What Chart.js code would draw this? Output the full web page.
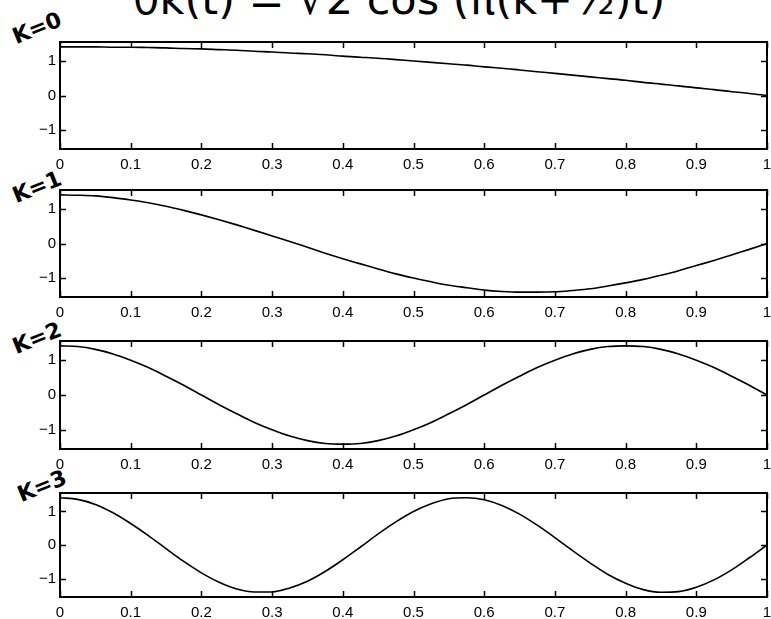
<!DOCTYPE html>
<html>
<head>
<meta charset="utf-8">
<script src="https://cdn.jsdelivr.net/npm/chart.js@4"></script>
<style>
  html, body { margin: 0; padding: 0; background: #fff; overflow: hidden; }
  body { width: 771px; height: 619px; position: relative; }
  canvas { position: absolute; left: 0; }
  .hand { position: absolute; font-family: "DejaVu Sans", sans-serif; color: #000; white-space: nowrap; }
  #title { left: 133px; top: -22px; font-size: 43px; line-height: 43px; }
  .klabel { font-size: 22px; font-weight: bold; transform: rotate(-22deg); transform-origin: left bottom; }
</style>
</head>
<body>
<div id="title" class="hand">ϑk(t) = √2 cos (π(k+½)t)</div>
<div class="hand klabel" style="left:18px; top:24px;">K=0</div>
<div class="hand klabel" style="left:18px; top:183px;">K=1</div>
<div class="hand klabel" style="left:18px; top:334px;">K=2</div>
<div class="hand klabel" style="left:23px; top:482px;">K=3</div>

<canvas id="c0"></canvas>
<canvas id="c1"></canvas>
<canvas id="c2"></canvas>
<canvas id="c3"></canvas>

<script>
// sample times (t) read along the horizontal axis
const tValues = [0, 0.025, 0.05, 0.075, 0.1, 0.125, 0.15, 0.175, 0.2, 0.225,
  0.25, 0.275, 0.3, 0.325, 0.35, 0.375, 0.4, 0.425, 0.45, 0.475,
  0.5, 0.525, 0.55, 0.575, 0.6, 0.625, 0.65, 0.675, 0.7, 0.725,
  0.75, 0.775, 0.8, 0.825, 0.85, 0.875, 0.9, 0.925, 0.95, 0.975, 1];

// curve values for each panel
const k0Values = [1.41, 1.41, 1.41, 1.40, 1.40, 1.39, 1.38, 1.36, 1.35, 1.33,
  1.31, 1.28, 1.26, 1.23, 1.21, 1.18, 1.14, 1.11, 1.08, 1.04,
  1.00, 0.96, 0.92, 0.88, 0.83, 0.79, 0.74, 0.69, 0.64, 0.59,
  0.54, 0.49, 0.44, 0.38, 0.33, 0.28, 0.22, 0.17, 0.11, 0.06, 0.00];
const k1Values = [1.41, 1.40, 1.38, 1.33, 1.26, 1.18, 1.08, 0.96, 0.83, 0.69,
  0.54, 0.38, 0.22, 0.06, -0.11, -0.28, -0.44, -0.59, -0.74, -0.88,
  -1.00, -1.11, -1.21, -1.28, -1.35, -1.39, -1.41, -1.41, -1.40, -1.36,
  -1.31, -1.23, -1.14, -1.04, -0.92, -0.79, -0.64, -0.49, -0.33, -0.17, 0.00];
const k2Values = [1.41, 1.39, 1.31, 1.18, 1.00, 0.79, 0.54, 0.28, 0.00, -0.28,
  -0.54, -0.79, -1.00, -1.18, -1.31, -1.39, -1.41, -1.39, -1.31, -1.18,
  -1.00, -0.79, -0.54, -0.28, 0.00, 0.28, 0.54, 0.79, 1.00, 1.18,
  1.31, 1.39, 1.41, 1.39, 1.31, 1.18, 1.00, 0.79, 0.54, 0.28, 0.00];
const k3Values = [1.41, 1.36, 1.21, 0.96, 0.64, 0.28, -0.11, -0.49, -0.83, -1.11,
  -1.31, -1.40, -1.40, -1.28, -1.08, -0.79, -0.44, -0.06, 0.33, 0.69,
  1.00, 1.23, 1.38, 1.41, 1.35, 1.18, 0.92, 0.59, 0.22, -0.17,
  -0.54, -0.88, -1.14, -1.33, -1.41, -1.39, -1.26, -1.04, -0.74, -0.38, 0.00];

const xTicks = [0, 0.1, 0.2, 0.3, 0.4, 0.5, 0.6, 0.7, 0.8, 0.9, 1];
const yTicks = [-1, 0, 1];
const yLimit = 1.55;

// panel plot boxes in page pixels: top and bottom of each frame
const panels = [
  { id: 'c0', values: k0Values, top: 41, bottom: 149 },
  { id: 'c1', values: k1Values, top: 189, bottom: 297 },
  { id: 'c2', values: k2Values, top: 340, bottom: 449 },
  { id: 'c3', values: k3Values, top: 492, bottom: 597 }
];

const padTop = 12;
const axisLeft = 60;
const labelBand = 22;
const tickFont = { family: 'Liberation Sans, Arial, sans-serif', size: 15 };

// Matlab style box with inward ticks
const boxPlugin = {
  id: 'box',
  afterDraw(chart) {
    const ctx = chart.ctx;
    const a = chart.chartArea;
    const xs = chart.scales.x;
    const ys = chart.scales.y;
    ctx.save();
    ctx.strokeStyle = '#000';
    ctx.lineWidth = 1.5;
    xTicks.forEach(v => {
      const px = Math.round(xs.getPixelForValue(v)) + 0.5;
      ctx.beginPath();
      ctx.moveTo(px, a.bottom); ctx.lineTo(px, a.bottom - 6);
      ctx.moveTo(px, a.top); ctx.lineTo(px, a.top + 6);
      ctx.stroke();
    });
    yTicks.forEach(v => {
      const py = Math.round(ys.getPixelForValue(v)) + 0.5;
      ctx.beginPath();
      ctx.moveTo(a.left, py); ctx.lineTo(a.left + 6, py);
      ctx.moveTo(a.right, py); ctx.lineTo(a.right - 6, py);
      ctx.stroke();
    });
    ctx.lineWidth = 2;
    ctx.strokeRect(a.left, a.top, a.right - a.left, a.bottom - a.top);
    ctx.restore();
  }
};

function tickText(v) {
  if (v < 0) return '\u2212' + Math.abs(v);
  return String(v);
}

panels.forEach(p => {
  const canvas = document.getElementById(p.id);
  const h = p.bottom - p.top;
  canvas.width = 771;
  canvas.height = padTop + h + labelBand;
  canvas.style.top = (p.top - padTop) + 'px';

  new Chart(canvas, {
    type: 'line',
    data: {
      datasets: [{
        data: tValues.map((t, i) => ({ x: t, y: p.values[i] })),
        borderColor: '#000',
        borderWidth: 1.6,
        pointRadius: 0,
        cubicInterpolationMode: 'monotone',
        fill: false
      }]
    },
    options: {
      responsive: false,
      animation: false,
      events: [],
      layout: { padding: { top: padTop, right: 0, left: 0, bottom: 0 } },
      plugins: { legend: { display: false }, tooltip: { enabled: false } },
      scales: {
        x: {
          type: 'linear',
          min: 0,
          max: 1,
          afterBuildTicks: s => { s.ticks = xTicks.map(v => ({ value: v })); },
          afterFit: s => { s.height = labelBand; s.paddingRight = 4; },
          grid: { display: false, drawTicks: false },
          border: { display: false },
          ticks: {
            color: '#000',
            padding: 7,
            maxRotation: 0,
            autoSkip: false,
            font: tickFont,
            callback: v => tickText(v)
          }
        },
        y: {
          min: -yLimit,
          max: yLimit,
          afterBuildTicks: s => { s.ticks = yTicks.map(v => ({ value: v })); },
          afterFit: s => { s.width = axisLeft; },
          grid: { display: false, drawTicks: false },
          border: { display: false },
          ticks: {
            color: '#000',
            padding: 4,
            font: tickFont,
            callback: v => tickText(v)
          }
        }
      }
    },
    plugins: [boxPlugin]
  });
});
</script>
</body>
</html>
